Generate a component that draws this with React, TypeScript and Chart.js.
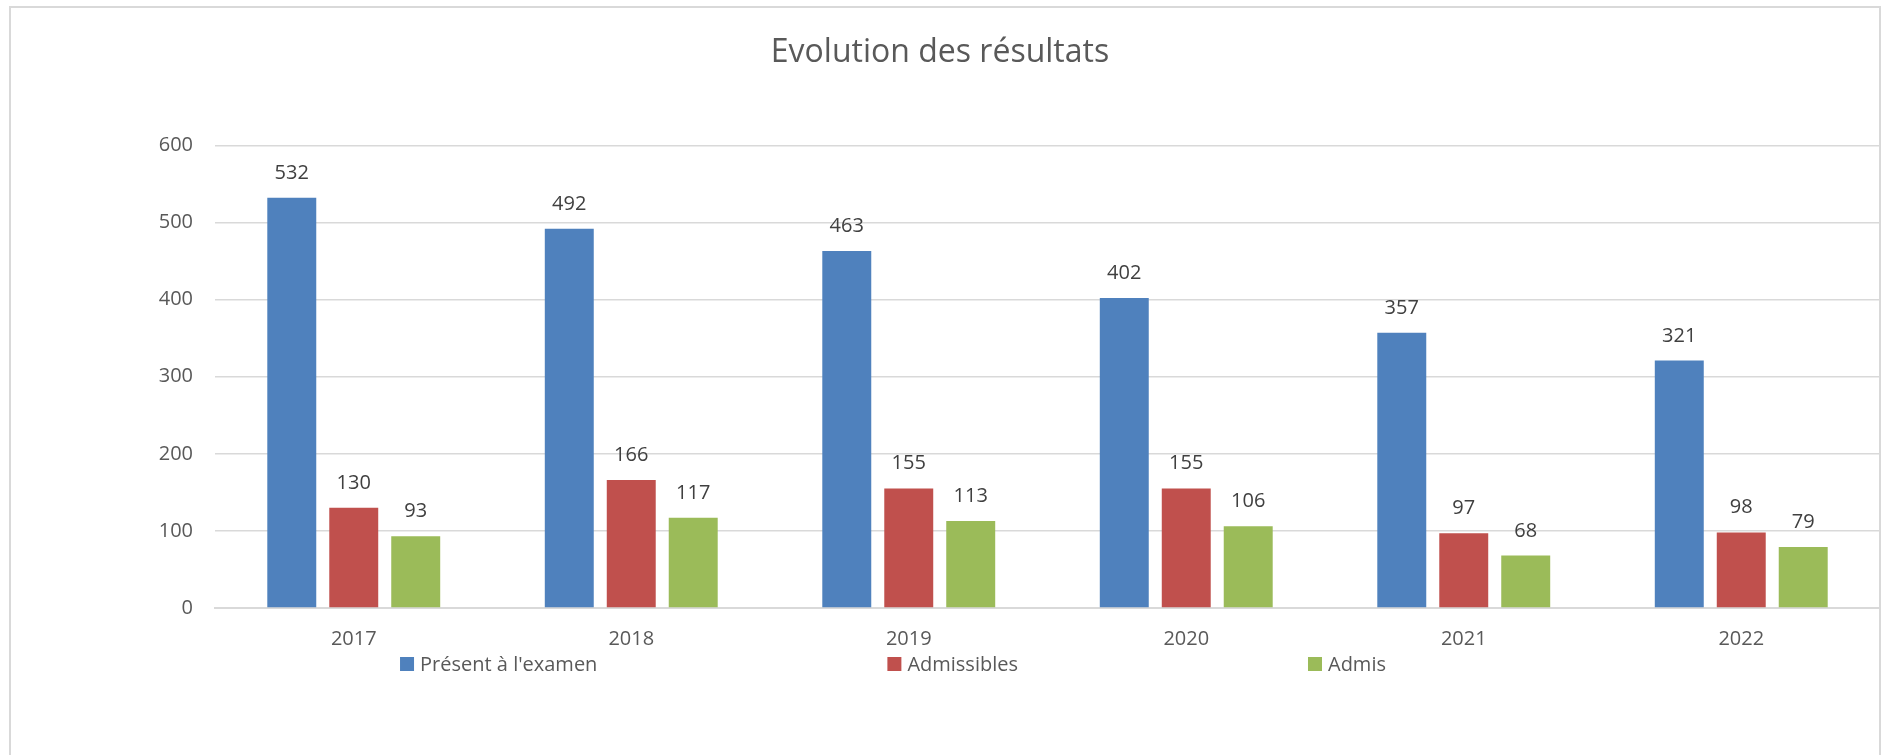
import React, { useEffect, useRef } from "react";
import { Chart, registerables } from "chart.js";

Chart.register(...registerables);

const categories = ["2017", "2018", "2019", "2020", "2021", "2022"];
const presentValues = [532, 492, 463, 402, 357, 321];
const admissiblesValues = [130, 166, 155, 155, 97, 98];
const admisValues = [93, 117, 113, 106, 68, 79];
const seriesLabels = ["Présent à l'examen", "Admissibles", "Admis"];
const seriesColors = ["#4f81bd", "#c0504d", "#9bbb59"];
const yTicks = [0, 100, 200, 300, 400, 500, 600];
const titleText = "Evolution des résultats";

const FONT = "'Open Sans', sans-serif";
const TEXT = "#595959";
const GRID = "#d9d9d9";

const framePlugin = {
  id: "frame",
  beforeDraw(chart: any) {
    const { ctx, width, height } = chart;
    ctx.save();
    ctx.fillStyle = "#ffffff";
    ctx.fillRect(0, 0, width, height);
    ctx.strokeStyle = GRID;
    ctx.lineWidth = 2;
    ctx.strokeRect(10, 7, width - 11, height + 100);
    ctx.restore();
  },
};

const dataLabelPlugin = {
  id: "dataLabels",
  afterDatasetsDraw(chart: any) {
    const { ctx } = chart;
    ctx.save();
    ctx.font = `20px ${FONT}`;
    ctx.fillStyle = "#404040";
    ctx.textAlign = "center";
    ctx.textBaseline = "alphabetic";
    chart.data.datasets.forEach((ds: any, di: number) => {
      const meta = chart.getDatasetMeta(di);
      meta.data.forEach((el: any, i: number) => {
        ctx.fillText(String(ds.data[i]), el.x, el.y - 19);
      });
    });
    ctx.restore();
  },
};

const legendPlugin = {
  id: "customLegend",
  afterDraw(chart: any) {
    const { ctx, chartArea } = chart;
    const box = 14;
    const boxGap = 6;
    const itemGap = 290;
    const centerX = 893;
    const y = chartArea.bottom + 56;
    ctx.save();
    ctx.font = `20px ${FONT}`;
    const items = chart.data.datasets.map((ds: any) => ({
      text: ds.label,
      color: ds.backgroundColor,
      w: box + boxGap + ctx.measureText(ds.label).width,
    }));
    const total =
      items.reduce((s: number, it: any) => s + it.w, 0) + itemGap * (items.length - 1);
    let x = centerX - total / 2;
    ctx.textBaseline = "middle";
    ctx.textAlign = "left";
    items.forEach((it: any) => {
      ctx.fillStyle = it.color;
      ctx.fillRect(x, y - box / 2, box, box);
      ctx.fillStyle = TEXT;
      ctx.fillText(it.text, x + box + boxGap, y + 1);
      x += it.w + itemGap;
    });
    ctx.restore();
  },
};

export default function App() {
  const ref = useRef<HTMLCanvasElement | null>(null);

  useEffect(() => {
    document.body.style.margin = "0";
    document.body.style.overflow = "hidden";
    if (!ref.current) return;
    const seriesData = [presentValues, admissiblesValues, admisValues];
    const chart = new Chart(ref.current, {
      type: "bar",
      data: {
        labels: categories,
        datasets: seriesLabels.map((label, i) => ({
          label,
          data: seriesData[i],
          backgroundColor: seriesColors[i],
          borderWidth: 0,
          categoryPercentage: 0.67,
          barPercentage: 0.79,
        })),
      },
      options: {
        responsive: false,
        animation: false,
        layout: { padding: { top: 0, left: 0, right: 1, bottom: 85 } },
        plugins: {
          legend: { display: false },
          tooltip: { enabled: false },
          title: {
            display: true,
            text: titleText,
            color: TEXT,
            font: { family: FONT, size: 32, weight: "normal" },
            padding: { top: 34, bottom: 73 },
          },
        },
        scales: {
          x: {
            grid: { display: false, drawTicks: false },
            border: { display: true, color: GRID, width: 2 },
            ticks: {
              color: TEXT,
              font: { family: FONT, size: 20 },
              padding: 19,
            },
          },
          y: {
            min: 0,
            max: 600,
            afterBuildTicks: (s: any) => {
              s.ticks = yTicks.map((v) => ({ value: v }));
            },
            afterFit: (s: any) => {
              s.width = 215;
            },
            grid: { color: GRID, lineWidth: 1.5, drawTicks: false },
            border: { display: false },
            ticks: {
              color: TEXT,
              font: { family: FONT, size: 20 },
              padding: 22,
            },
          },
        },
      },
      plugins: [framePlugin, dataLabelPlugin, legendPlugin],
    });
    return () => chart.destroy();
  }, []);

  return <canvas ref={ref} width={1881} height={755} style={{ display: "block" }} />;
}
